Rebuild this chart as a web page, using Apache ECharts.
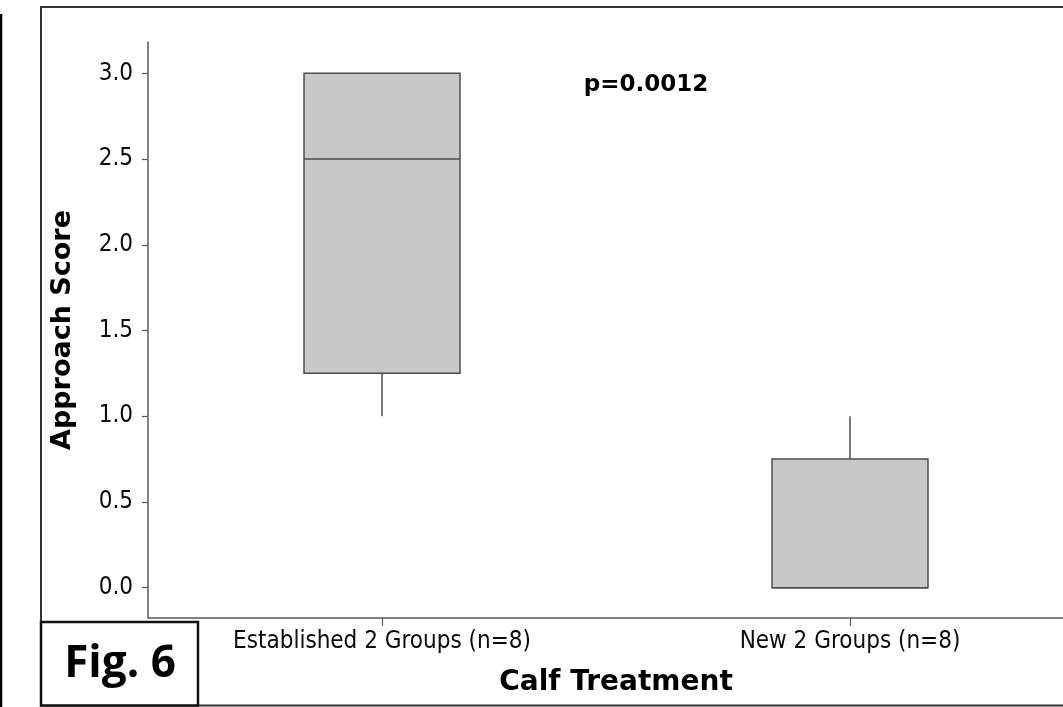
<!DOCTYPE html>
<html>
<head>
<meta charset="utf-8">
<script src="https://cdn.jsdelivr.net/npm/echarts@6/dist/echarts.min.js"></script>
<style>
html,body{margin:0;padding:0;background:#fff;}
#chart{width:1063px;height:707px;}
</style>
</head>
<body>
<div id="chart"></div>
<script>
// ---- data ----
var categories = ['Established 2 Groups (n=8)', 'New 2 Groups (n=8)'];
var whiskerLow = [1.0, 0.0];
var q1Values = [1.25, 0.0];
var medians = [2.5, 0.0];
var q3Values = [3.0, 0.75];
var whiskerHigh = [3.0, 1.0];
var yTicks = [0, 0.5, 1.0, 1.5, 2.0, 2.5, 3.0];
var pText = 'p=0.0012';
var figText = 'Fig. 6';
var yTitle = 'Approach Score';
var xTitle = 'Calf Treatment';

var boxData = categories.map(function (c, i) {
  return [i, whiskerLow[i], q1Values[i], medians[i], q3Values[i], whiskerHigh[i]];
});

var chart = echarts.init(document.getElementById('chart'), null, {renderer: 'canvas'});
var regFont = "'DejaVu Sans Condensed', 'DejaVu Sans', sans-serif";
var boldFont = "'DejaVu Sans', sans-serif";
var stroke = '#4d4d4d';

var option = {
  animation: false,
  backgroundColor: '#fff',
  grid: {left: 148, top: 42, height: 576, width: 936, outerBoundsMode: 'none', containLabel: false},
  xAxis: {
    type: 'category',
    data: categories,
    boundaryGap: true,
    axisLine: {onZero: false, lineStyle: {color: '#5a5a5a', width: 1.5}},
    axisTick: {show: true, interval: 0, alignWithLabel: true, length: 8, lineStyle: {color: '#5a5a5a', width: 1.2}},
    axisLabel: {fontFamily: regFont, fontSize: 24, color: '#0a0a0a', margin: 12, interval: 0},
    splitLine: {show: false},
    name: xTitle,
    nameLocation: 'middle',
    nameGap: 51,
    nameTextStyle: {fontFamily: boldFont, fontWeight: 'bold', fontSize: 28, color: '#000'}
  },
  yAxis: {
    type: 'value',
    min: -0.177,
    max: 3.183,
    axisLine: {show: true, lineStyle: {color: '#5a5a5a', width: 1.5}},
    axisTick: {show: true, length: 6, customValues: yTicks, lineStyle: {color: '#5a5a5a', width: 1.2}},
    axisLabel: {
      customValues: yTicks,
      fontFamily: regFont, fontSize: 24, color: '#0a0a0a', margin: 15,
      formatter: function (v) { return Number(v).toFixed(1); }
    },
    splitLine: {show: false},
    name: yTitle,
    nameLocation: 'middle',
    nameGap: 72,
    nameTextStyle: {fontFamily: boldFont, fontWeight: 'bold', fontSize: 27, color: '#000'}
  },
  series: [{
    type: 'custom',
    data: boxData,
    encode: {x: 0, y: [1, 2, 3, 4, 5]},
    renderItem: function (params, api) {
      var ci = api.value(0);
      var lo = api.coord([ci, api.value(1)]);
      var q1 = api.coord([ci, api.value(2)]);
      var med = api.coord([ci, api.value(3)]);
      var q3 = api.coord([ci, api.value(4)]);
      var hi = api.coord([ci, api.value(5)]);
      var bw = api.size([1, 0])[0] / 3;
      var x = q1[0];
      var ls = {stroke: stroke, lineWidth: 1.5};
      return {
        type: 'group',
        children: [
          {type: 'line', shape: {x1: x, y1: q1[1], x2: x, y2: lo[1]}, style: ls},
          {type: 'line', shape: {x1: x, y1: q3[1], x2: x, y2: hi[1]}, style: ls},
          {type: 'rect', shape: {x: x - bw / 2, y: q3[1], width: bw, height: q1[1] - q3[1]},
            style: {fill: '#c8c8c8', stroke: stroke, lineWidth: 1.5}},
          {type: 'line', shape: {x1: x - bw / 2, y1: med[1], x2: x + bw / 2, y2: med[1]}, style: ls}
        ]
      };
    }
  }],
  graphic: [
    {type: 'polyline', shape: {points: [[1075, 7], [41, 7], [41, 705.5], [1075, 705.5]]},
      style: {stroke: '#333', lineWidth: 2, fill: null}, z: 10},
    {type: 'line', shape: {x1: 1, y1: 14, x2: 1, y2: 707}, style: {stroke: '#000', lineWidth: 2.5}, z: 10},
    {type: 'rect', shape: {x: 41, y: 622, width: 157, height: 83.5},
      style: {stroke: '#111', lineWidth: 2.5, fill: '#fff'}, z: 10},
    {type: 'text', x: 120, y: 664, z: 11,
      style: {text: figText, fontFamily: "'Open Sans', sans-serif", fontWeight: 'bold', fontSize: 44,
        fill: '#000', align: 'center', verticalAlign: 'middle'}},
    {type: 'text', x: 646, y: 85, z: 11,
      style: {text: pText, fontFamily: boldFont, fontWeight: 'bold', fontSize: 23,
        fill: '#000', align: 'center', verticalAlign: 'middle'}}
  ]
};
chart.setOption(option);
</script>
</body>
</html>
